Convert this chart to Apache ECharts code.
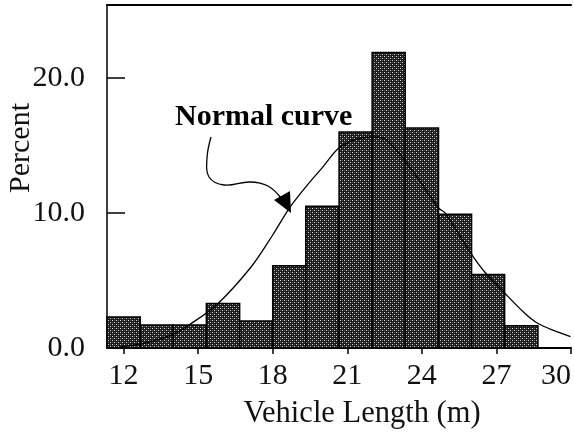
<!DOCTYPE html>
<html>
<head>
<meta charset="utf-8">
<script src="https://cdn.jsdelivr.net/npm/echarts@6/dist/echarts.min.js"></script>
<style>
html,body{margin:0;padding:0;background:#fff;}
#c{width:574px;height:436px;}
</style>
</head>
<body>
<div id="c"></div>
<script>
// Histogram bin edges (m) and bar heights (percent)
const binEdges = [11.33, 12.67, 14.0, 15.33, 16.67, 18.0, 19.33, 20.67, 22.0, 23.33, 24.67, 26.0, 27.33, 28.67];
const percents = [2.3, 1.7, 1.7, 3.3, 2.0, 6.1, 10.5, 16.0, 21.9, 16.3, 9.9, 5.45, 1.65];
// Normal curve points [length, percent]
const curveX = [11.85, 13.04, 14.03, 14.63, 15.74, 17.13, 18.0, 18.67, 19.39, 19.98, 20.66, 21.37, 22.17, 22.68, 23.75, 24.67, 24.94, 25.94, 26.53, 27.33, 28.13, 28.64, 29.3, 29.98];
const curveY = [0.07, 0.44, 1.04, 1.70, 3.19, 6.00, 8.37, 10.37, 12.07, 13.33, 14.81, 15.48, 15.63, 15.26, 12.81, 10.37, 10.00, 7.11, 5.63, 4.07, 2.59, 1.85, 1.3, 0.85];
const xTicks = [12, 15, 18, 21, 24, 27, 30];
const yTicks = [0, 10, 20];

const FONT = '"Liberation Serif", "Times New Roman", serif';

// halftone pattern
const pc = document.createElement('canvas');
pc.width = 4; pc.height = 4;
const g = pc.getContext('2d');
g.fillStyle = '#1c1c1c'; g.fillRect(0, 0, 4, 4);
g.fillStyle = '#d8d8d8';
g.fillRect(0, 0, 1, 1); g.fillRect(2, 2, 1, 1);
g.fillStyle = '#555';
g.fillRect(2, 0, 1, 1); g.fillRect(0, 2, 1, 1);

const barData = percents.map((v, i) => [binEdges[i], binEdges[i + 1], v]);
const curveData = curveX.map((x, i) => [x, curveY[i]]);

const chart = echarts.init(document.getElementById('c'), null, {renderer: 'canvas'});
chart.setOption({
  animation: false,
  backgroundColor: '#fff',
  grid: {left: 107, right: 0, top: 5, bottom: 88},
  xAxis: [{
    type: 'value', min: 34 / 3, max: 30,
    splitLine: {show: false},
    axisLine: {show: true, onZero: false, lineStyle: {color: '#000', width: 2}},
    axisTick: {show: true, customValues: xTicks, length: 6, lineStyle: {color: '#000', width: 1.5}},
    axisLabel: {customValues: xTicks, margin: 13, color: '#111', fontFamily: FONT, fontSize: 30, alignMaxLabel: 'right'}
  }, {
    type: 'value', min: 34 / 3, max: 30, position: 'top',
    splitLine: {show: false},
    axisLine: {show: true, onZero: false, lineStyle: {color: '#000', width: 2}},
    axisTick: {show: false}, axisLabel: {show: false}
  }],
  yAxis: {
    type: 'value', min: 0, max: 25.41,
    splitLine: {show: false},
    axisLine: {show: true, lineStyle: {color: '#000', width: 1.5}},
    axisTick: {show: true, inside: true, customValues: yTicks, length: 18, lineStyle: {color: '#000', width: 1.5}},
    axisLabel: {customValues: yTicks, margin: 22, color: '#111', fontFamily: FONT, fontSize: 30,
      formatter: v => v.toFixed(1)}
  },
  series: [{
    type: 'custom',
    data: barData,
    encode: {x: [0, 1], y: 2},
    z: 2,
    renderItem: function (params, api) {
      const p0 = api.coord([api.value(0), 0]);
      const p1 = api.coord([api.value(1), api.value(2)]);
      return {
        type: 'rect',
        shape: {x: p0[0], y: p1[1], width: p1[0] - p0[0], height: p0[1] - p1[1]},
        style: {fill: {image: pc, repeat: 'repeat'}, stroke: '#000', lineWidth: 1.5}
      };
    }
  }, {
    type: 'line',
    data: curveData,
    smooth: 0.3,
    showSymbol: false,
    z: 3,
    lineStyle: {color: '#000', width: 1.3}
  }],
  graphic: [{
    type: 'text', left: 175, top: 102, z: 10,
    style: {text: 'Normal curve', font: 'bold 30px ' + FONT, fill: '#000'}
  }, {
    type: 'text', x: 21, y: 148, rotation: Math.PI / 2, z: 10,
    style: {text: 'Percent', font: '30px ' + FONT, fill: '#111', align: 'center', verticalAlign: 'middle'}
  }, {
    type: 'text', x: 362, y: 414, z: 10,
    style: {text: 'Vehicle Length (m)', font: '30.5px ' + FONT, fill: '#111', align: 'center', verticalAlign: 'middle'}
  }, {
    type: 'polyline', z: 10,
    shape: {points: [[211, 137], [207, 158], [209, 177], [224, 185], [250, 182], [268, 186], [281, 198]], smooth: 0.4},
    style: {stroke: '#000', lineWidth: 1.3, fill: null}
  }, {
    type: 'polygon', z: 10,
    shape: {points: [[274, 200], [290, 191], [291, 213]]},
    style: {fill: '#000'}
  }]
});
</script>
</body>
</html>
